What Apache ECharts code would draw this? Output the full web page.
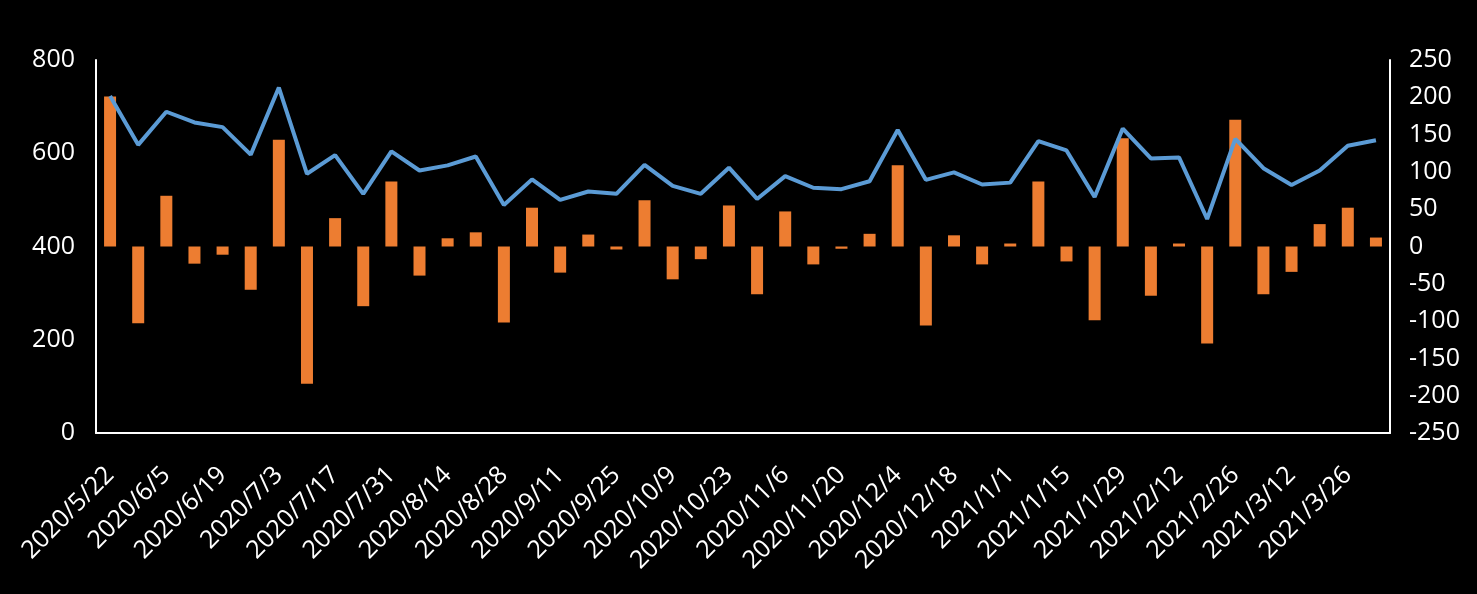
<!DOCTYPE html>
<html>
<head>
<meta charset="utf-8">
<script src="https://cdn.jsdelivr.net/npm/echarts@6/dist/echarts.min.js"></script>
<style>
html,body{margin:0;padding:0;background:#000;}
#c{width:1477px;height:594px;}
</style>
</head>
<body>
<div id="c"></div>
<script>
const categories = [
  "2020/5/22","2020/5/29","2020/6/5","2020/6/12","2020/6/19","2020/6/26",
  "2020/7/3","2020/7/10","2020/7/17","2020/7/24","2020/7/31","2020/8/7",
  "2020/8/14","2020/8/21","2020/8/28","2020/9/4","2020/9/11","2020/9/18",
  "2020/9/25","2020/10/2","2020/10/9","2020/10/16","2020/10/23","2020/10/30",
  "2020/11/6","2020/11/13","2020/11/20","2020/11/27","2020/12/4","2020/12/11",
  "2020/12/18","2020/12/25","2021/1/1","2021/1/8","2021/1/15","2021/1/22",
  "2021/1/29","2021/2/5","2021/2/12","2021/2/19","2021/2/26","2021/3/5",
  "2021/3/12","2021/3/19","2021/3/26","2021/4/2"
];
const lineValues = [
  723, 618, 689, 666, 656, 597,
  741, 556, 596, 513, 604, 563,
  574, 593, 489, 544, 500, 518,
  513, 575, 530, 513, 569, 502,
  551, 526, 523, 540, 650, 543,
  559, 533, 537, 626, 606, 506,
  653, 589, 591, 459, 631, 568,
  532, 563, 616, 628
];
const barValues = [
  201, -103, 68, -23, -11, -58,
  143, -184, 38, -80, 87, -39,
  11, 19, -102, 52, -35, 16,
  -4, 62, -44, -17, 55, -64,
  47, -24, -3, 17, 109, -106,
  15, -24, 4, 87, -20, -99,
  145, -66, 4, -130, 170, -64,
  -34, 30, 52, 12
];
const leftTicks = {min: 0, max: 800, interval: 200};
const rightTicks = {min: -250, max: 250, interval: 50};

const font = "'Open Sans', 'Noto Sans', sans-serif";
const chart = echarts.init(document.getElementById('c'));
chart.setOption({
  backgroundColor: '#000',
  animation: false,
  grid: {left: 96, right: 87, top: 60, bottom: 161, containLabel: false},
  xAxis: {
    type: 'category',
    data: categories,
    boundaryGap: true,
    axisLine: {show: true, onZero: false, lineStyle: {color: '#fff', width: 2}},
    axisTick: {show: false},
    splitLine: {show: false},
    axisLabel: {
      color: '#fff', fontSize: 25, fontFamily: font,
      rotate: 45, interval: 1, margin: 38, verticalAlign: 'middle',
      padding: [14, 0, 0, 0]
    }
  },
  yAxis: [
    {
      type: 'value', position: 'left',
      min: leftTicks.min, max: leftTicks.max, interval: leftTicks.interval,
      axisLine: {show: true, lineStyle: {color: '#fff', width: 2}},
      axisTick: {show: false},
      splitLine: {show: false},
      axisLabel: {color: '#fff', fontSize: 25, fontFamily: font, margin: 21}
    },
    {
      type: 'value', position: 'right',
      min: rightTicks.min, max: rightTicks.max, interval: rightTicks.interval,
      axisLine: {show: true, lineStyle: {color: '#fff', width: 2}},
      axisTick: {show: false},
      splitLine: {show: false},
      axisLabel: {color: '#fff', fontSize: 25, fontFamily: font, margin: 19}
    }
  ],
  series: [
    {
      type: 'bar', yAxisIndex: 1, data: barValues,
      barWidth: 12,
      itemStyle: {color: '#ED7D31'},
      z: 2
    },
    {
      type: 'line', yAxisIndex: 0, data: lineValues,
      symbol: 'none',
      lineStyle: {color: '#5B9BD5', width: 4},
      z: 3
    }
  ]
});
</script>
</body>
</html>
